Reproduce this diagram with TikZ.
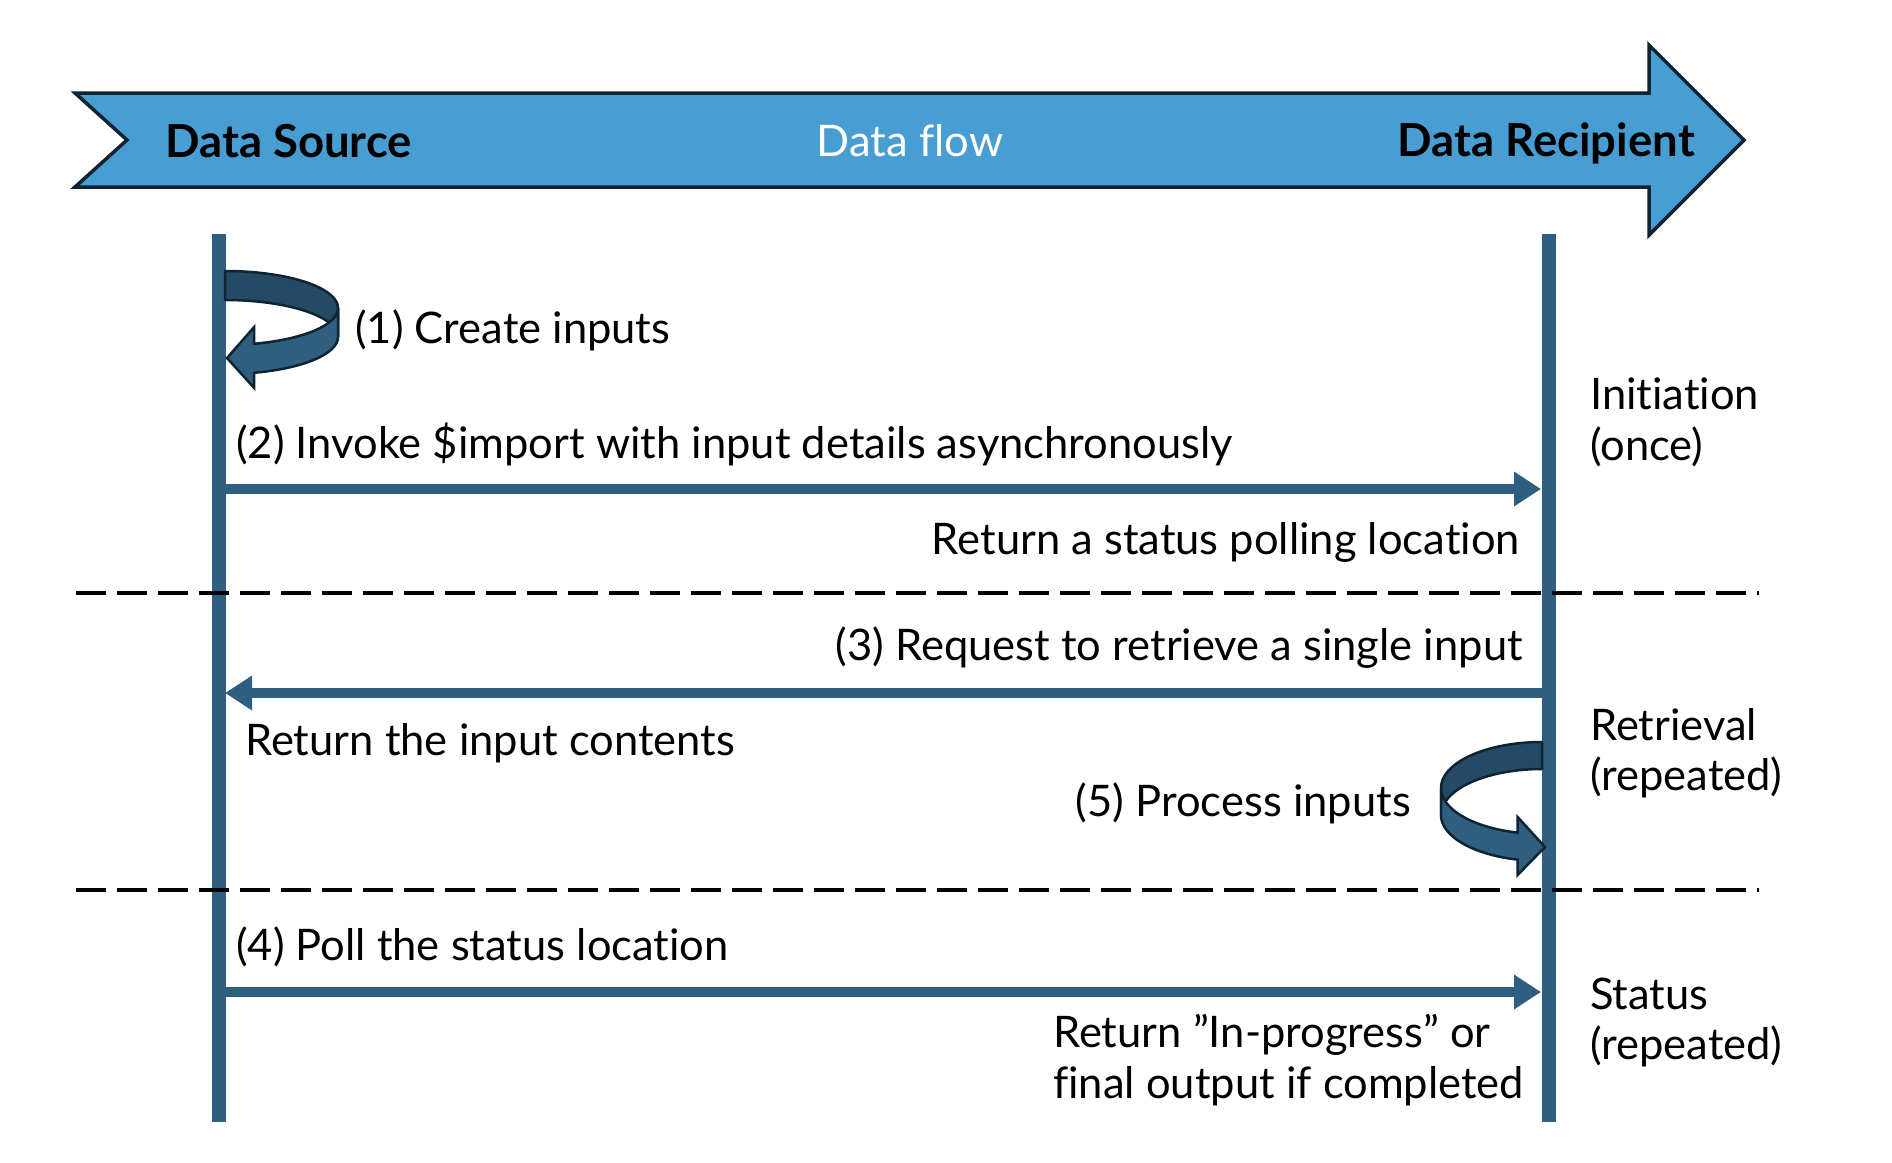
\documentclass[tikz,border=0pt]{standalone}
\usepackage{fontspec}
\setmainfont{Lato}[Ligatures=NoCommon]
\usetikzlibrary{arrows.meta}

\definecolor{lifeblue}{RGB}{46,95,128}
\definecolor{bannerblue}{RGB}{72,158,210}
\definecolor{edgedark}{RGB}{14,36,51}
\definecolor{backface}{RGB}{36,74,102}
\definecolor{frontface}{RGB}{46,95,128}

\begin{document}
\begin{tikzpicture}[x=1pt,y=-1pt,
  lbl/.style={font=\fontsize{43.5}{51}\selectfont, inner sep=0pt, text=black},
  head/.style={font=\bfseries\fontsize{45.5}{51}\selectfont, inner sep=0pt},
  lifeline/.style={draw=lifeblue, line width=14pt},
  msg/.style={draw=lifeblue, line width=10pt, -{Triangle[length=27pt,width=33pt]}},
  divider/.style={draw=black, line width=4pt, dash pattern=on 30pt off 11pt},
  banner/.style={fill=bannerblue, draw=edgedark, line width=3.5pt, line join=miter},
  curlback/.style={fill=backface, draw=edgedark, line width=2.5pt, line join=round},
  curlfront/.style={fill=frontface, draw=edgedark, line width=2.5pt, line join=miter}
]
\useasboundingbox (0,0) rectangle (1892,1162);

% banner arrow across the top
\draw[banner] (75,93) -- (1649,93) -- (1649,45) -- (1744,140) -- (1649,235)
  -- (1649,187) -- (75,187) -- (127,140) -- cycle;
\node[head, anchor=base west] (src) at (165,157) {Data Source};
\node[lbl, anchor=base, text=white] (flow) at (910,156) {Data flow};
\node[head, anchor=base east] (dst) at (1695,156) {Data Recipient};

% lifelines
\coordinate (srcTop) at (218.5,234);
\coordinate (srcBot) at (218.5,1122);
\coordinate (dstTop) at (1548.5,234);
\coordinate (dstBot) at (1548.5,1122);
\draw[lifeline] (srcTop) -- (srcBot);
\draw[lifeline] (dstTop) -- (dstBot);

% curled arrow (1) on the source lifeline
\def\cxA{225}\def\cyA{308}\def\rxA{113}\def\ryA{37}\def\wA{29}
\draw[curlback] plot[domain=90:0, samples=40, variable=\t] ({\cxA+\rxA*cos(\t)},{\cyA-\ryA*sin(\t)})
  -- plot[domain=0:90, samples=40, variable=\t] ({\cxA+\rxA*cos(\t)},{\cyA-\ryA*sin(\t)+\wA}) -- cycle;
\draw[curlfront] plot[domain=0:-75, samples=40, variable=\t] ({\cxA+\rxA*cos(\t)},{\cyA-\ryA*sin(\t)})
  -- (254.2,327) -- (227,358) -- (254.2,388)
  -- plot[domain=-75:0, samples=40, variable=\t] ({\cxA+\rxA*cos(\t)},{\cyA-\ryA*sin(\t)+\wA}) -- cycle;
\node[lbl, anchor=base west] (create) at (355,343) {(1) Create inputs};

% message (2) and its reply
\coordinate (m2s) at (225,489);
\coordinate (m2e) at (1541,489);
\draw[msg] (m2s) -- (m2e);
\node[lbl, anchor=base west] (invoke) at (236,458) {(2) Invoke \$import with input details asynchronously};
\node[lbl, anchor=base east] (poll) at (1520,554) {Return a status polling location};

% message (3) and its reply
\coordinate (m3s) at (1542,693);
\coordinate (m3e) at (225,693);
\draw[msg] (m3s) -- (m3e);
\node[lbl, anchor=base east] (request) at (1523,660) {(3) Request to retrieve a single input};
\node[lbl, anchor=base west] (contents) at (245,755) {Return the input contents};

% curled arrow (5) on the recipient lifeline
\def\cxB{1542}\def\cyB{788}\def\rxB{101}\def\ryB{46}\def\wB{27}
\draw[curlback] plot[domain=90:0, samples=40, variable=\t] ({\cxB-\rxB*cos(\t)},{\cyB-\ryB*sin(\t)})
  -- plot[domain=0:90, samples=40, variable=\t] ({\cxB-\rxB*cos(\t)},{\cyB-\ryB*sin(\t)+\wB}) -- cycle;
\draw[curlfront] plot[domain=0:-76, samples=40, variable=\t] ({\cxB-\rxB*cos(\t)},{\cyB-\ryB*sin(\t)})
  -- (1517.6,817) -- (1545,847) -- (1517.6,875)
  -- plot[domain=-76:0, samples=40, variable=\t] ({\cxB-\rxB*cos(\t)},{\cyB-\ryB*sin(\t)+\wB}) -- cycle;
\node[lbl, anchor=base east] (process) at (1411,816) {(5) Process inputs};

% message (4) and its reply
\coordinate (m4s) at (225,992);
\coordinate (m4e) at (1541,992);
\draw[msg] (m4s) -- (m4e);
\node[lbl, anchor=base west] (pollstatus) at (236,960) {(4) Poll the status location};
\node[lbl, anchor=base west] (result1) at (1053,1047) {Return ”In-progress” or};
\node[lbl, anchor=base west] (result2) at (1053,1098) {final output if completed};

% phase dividers
\coordinate (d1a) at (76,593);
\coordinate (d1b) at (1759,593);
\coordinate (d2a) at (76,890);
\coordinate (d2b) at (1759,890);
\draw[divider] (d1a) -- (d1b);
\draw[divider] (d2a) -- (d2b);

% phase labels
\node[lbl, anchor=base west] (ph1a) at (1590,409) {Initiation};
\node[lbl, anchor=base west] (ph1b) at (1590,460) {(once)};
\node[lbl, anchor=base west] (ph2a) at (1590,740) {Retrieval};
\node[lbl, anchor=base west] (ph2b) at (1590,790) {(repeated)};
\node[lbl, anchor=base west] (ph3a) at (1590,1009) {Status};
\node[lbl, anchor=base west] (ph3b) at (1590,1059) {(repeated)};
\end{tikzpicture}
\end{document}
